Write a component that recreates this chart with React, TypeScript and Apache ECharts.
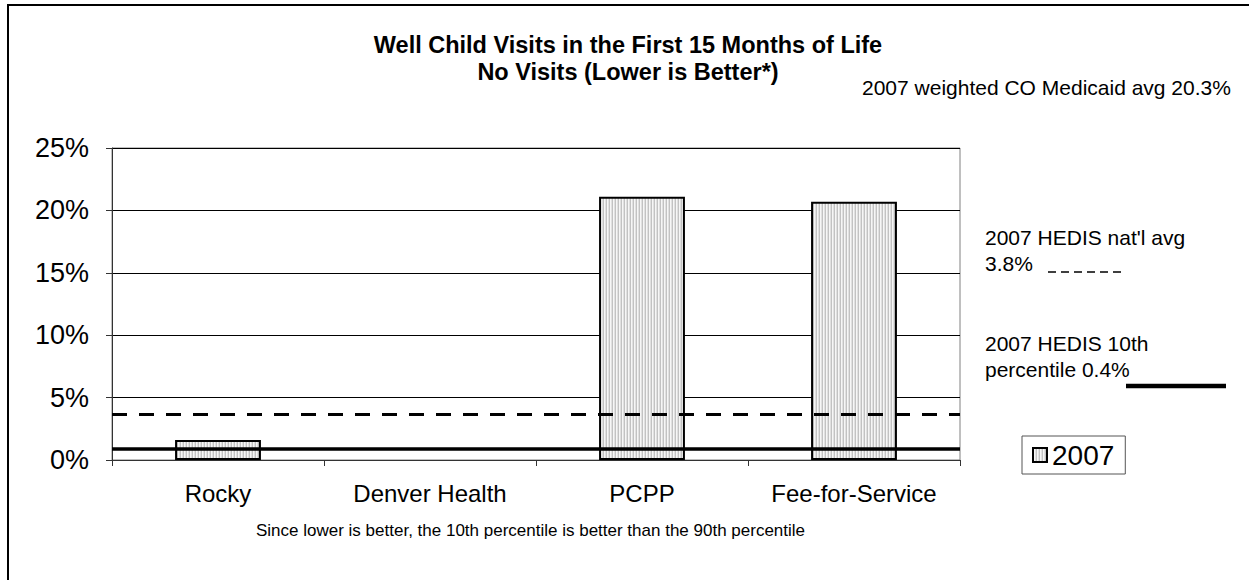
import React, { useEffect, useRef } from 'react';
import * as echarts from 'echarts';

const categories: string[] = ['Rocky', 'Denver Health', 'PCPP', 'Fee-for-Service'];
const values2007: (number | null)[] = [1.6, null, 21.1, 20.7];
const seriesName = '2007';
const hedisNatlAvg = 3.7;
const hedis10thPct = 0.9;
const yMin = 0;
const yMax = 25;
const yInterval = 5;

const titleText = 'Well Child Visits in the First 15 Months of Life\nNo Visits (Lower is Better*)';
const coAvgText = '2007 weighted CO Medicaid avg 20.3%';
const natlAvgLines: string[] = ["2007 HEDIS nat'l avg", '3.8%'];
const tenthLines: string[] = ['2007 HEDIS 10th', 'percentile 0.4%'];
const footnote = 'Since lower is better, the 10th percentile is better than the 90th percentile';

const F = '"Liberation Sans", Arial, Helvetica, sans-serif';

function makeStripe(): HTMLCanvasElement {
  const c = document.createElement('canvas');
  c.width = 3;
  c.height = 4;
  const ctx = c.getContext('2d')!;
  const cols = ['#c2c2c2', '#f6f6f6', '#e0e0e0'];
  cols.forEach((col, i) => {
    ctx.fillStyle = col;
    ctx.fillRect(i, 0, 1, 4);
  });
  return c;
}

export default function App() {
  const ref = useRef<HTMLDivElement>(null);
  useEffect(() => {
    if (!ref.current) return;
    const chart = echarts.init(ref.current, undefined, { renderer: 'svg' });
    const stripe = { image: makeStripe(), repeat: 'repeat' } as any;
    const option: any = {
      animation: false,
      backgroundColor: '#fff',
      textStyle: { fontFamily: F },
      title: {
        text: titleText,
        left: 628,
        top: 31,
        textAlign: 'center',
        padding: 0,
        textStyle: { fontSize: 23.5, fontWeight: 'bold', color: '#000', lineHeight: 27, fontFamily: F },
      },
      grid: { left: 112, right: 289, top: 148, bottom: 120, show: true, borderColor: '#808080', borderWidth: 1, containLabel: false },
      legend: {
        data: [seriesName],
        left: 1022,
        top: 436,
        padding: [5, 11, 5, 10],
        itemWidth: 14,
        itemHeight: 14,
        borderColor: '#555',
        borderWidth: 1,
        icon: 'rect',
        selectedMode: false,
        textStyle: { fontSize: 28, color: '#000', fontFamily: F },
      },
      xAxis: {
        type: 'category',
        data: categories,
        axisLine: { lineStyle: { color: '#333', width: 1 } },
        axisTick: { show: true, length: 6, lineStyle: { color: '#333' } },
        axisLabel: { interval: 0, hideOverlap: false, fontSize: 24, color: '#000', margin: 21, fontFamily: F },
        splitLine: { show: false },
      },
      yAxis: {
        type: 'value',
        min: yMin,
        max: yMax,
        interval: yInterval,
        axisLine: { show: true, lineStyle: { color: '#333' } },
        axisTick: { show: true, length: 6, lineStyle: { color: '#333' } },
        axisLabel: { formatter: '{value}%', fontSize: 27, color: '#000', margin: 23, fontFamily: F },
        splitLine: { lineStyle: { color: '#000', width: 1 } },
      },
      series: [
        {
          type: 'bar',
          name: seriesName,
          data: values2007,
          barWidth: '40.5%',
          itemStyle: { color: stripe, borderColor: '#000', borderWidth: 2 },
          emphasis: { disabled: true },
          markLine: {
            silent: true,
            symbol: ['none', 'none'],
            label: { show: false },
            emphasis: { disabled: true },
            data: [
              { yAxis: hedisNatlAvg, lineStyle: { type: [15, 12], width: 3, color: '#000' } },
              { yAxis: hedis10thPct, lineStyle: { type: 'solid', width: 3.5, color: '#000' } },
            ],
          },
        },
      ],
      graphic: [
        { type: 'rect', silent: true, z: 100, shape: { x: 8, y: 5, width: 1400, height: 800 }, style: { fill: 'none', stroke: '#000', lineWidth: 2 } },
        { type: 'text', x: 862, y: 87, style: { text: coAvgText, fontSize: 21, fontFamily: F, fill: '#000', verticalAlign: 'middle' } },
        { type: 'text', x: 985, y: 237, style: { text: natlAvgLines[0], fontSize: 21, fontFamily: F, fill: '#000', verticalAlign: 'middle' } },
        { type: 'text', x: 985, y: 263, style: { text: natlAvgLines[1], fontSize: 21, fontFamily: F, fill: '#000', verticalAlign: 'middle' } },
        { type: 'line', silent: true, shape: { x1: 1048, y1: 272, x2: 1121, y2: 272 }, style: { stroke: '#000', lineWidth: 1.5, lineDash: [8, 5] } },
        { type: 'text', x: 985, y: 343, style: { text: tenthLines[0], fontSize: 21, fontFamily: F, fill: '#000', verticalAlign: 'middle' } },
        { type: 'text', x: 985, y: 369, style: { text: tenthLines[1], fontSize: 21, fontFamily: F, fill: '#000', verticalAlign: 'middle' } },
        { type: 'line', silent: true, shape: { x1: 1126, y1: 386, x2: 1226, y2: 386 }, style: { stroke: '#000', lineWidth: 4.5 } },
        { type: 'text', x: 256, y: 530, style: { text: footnote, fontSize: 17, fontFamily: F, fill: '#000', verticalAlign: 'middle' } },
      ],
    };
    chart.setOption(option);
    return () => chart.dispose();
  }, []);
  return <div ref={ref} style={{ position: 'absolute', left: 0, top: 0, width: 1249, height: 580, overflow: 'hidden' }} />;
}
